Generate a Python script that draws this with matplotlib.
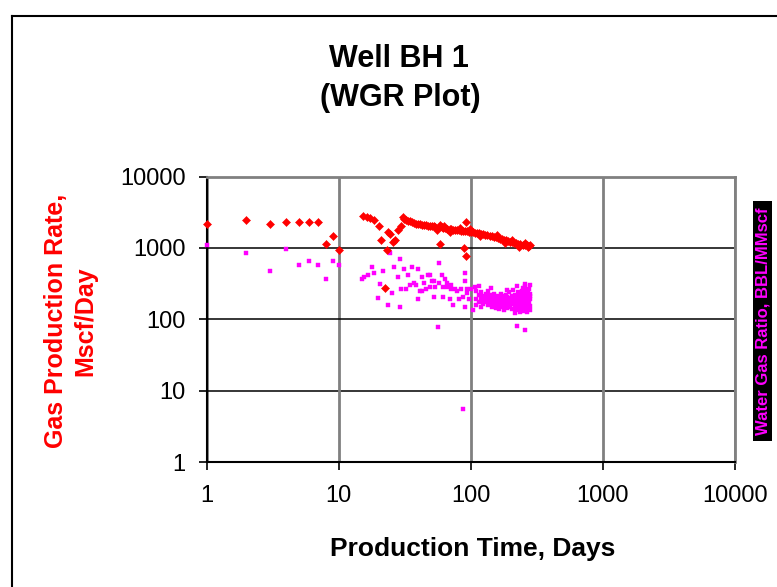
import matplotlib
matplotlib.use("Agg")
import matplotlib.pyplot as plt
from matplotlib.lines import Line2D
from matplotlib.patches import Rectangle
from matplotlib.ticker import FixedLocator, FixedFormatter, NullLocator

plt.rcParams['font.family'] = ['Liberation Sans', 'DejaVu Sans']

# ---- data -------------------------------------------------------------
tick_values = [1, 10, 100, 1000, 10000]
tick_labels = ["1", "10", "100", "1000", "10000"]

# gas production rate, Mscf/Day  (day, rate)
gas_early = [(1, 2170), (2, 2440), (3, 2170), (4, 2290), (5, 2290), (6, 2290),
             (7, 2290), (8, 1140), (9, 1470), (10, 940)]
gas_restart = [(15.4, 2840), (16.3, 2720), (17.3, 2600), (18.4, 2440), (20.1, 2010),
               (20.9, 1290), (22.4, 274), (23.1, 930), (23.8, 1650), (24.6, 1550),
               (25.6, 1200), (26.6, 1300), (28.2, 1800), (29.4, 2050)]
gas_decline = [(30.5, 2700), (31.5, 2520), (32.1, 2490), (33.3, 2400), (34.4, 2360),
               (35.7, 2290), (37.0, 2240), (38.3, 2190), (39.6, 2170), (41.0, 2140),
               (42.5, 2120), (44.0, 2100), (45.5, 2070), (47.1, 2050), (48.8, 2050),
               (50.5, 2030), (52.3, 2005), (54.1, 1985), (56.0, 1760), (58.3, 2120),
               (60.1, 1940), (62.2, 1905), (63.0, 2000), (64.4, 1905), (66.7, 1870),
               (69.1, 1850), (69.5, 1690), (71.5, 1820), (74.0, 1800), (76.7, 1800),
               (79.4, 1790), (82.2, 1770), (83.0, 1880), (85.1, 1745), (88.1, 1730),
               (91.2, 1706), (94.5, 1706), (97.8, 1690), (98.0, 1830), (101, 1674),
               (105, 1655), (108, 1640), (112, 1620), (116, 1600), (117, 1460),
               (120, 1570), (124, 1550), (129, 1535), (134, 1500), (139, 1470),
               (144, 1453), (149, 1440), (155, 1410), (157, 1520), (160, 1380),
               (166, 1350), (172, 1320), (179, 1306), (181, 1180), (185, 1275),
               (192, 1250), (199, 1225), (206, 1200), (207, 1306), (214, 1185),
               (222, 1160), (230, 1136), (231, 1040), (238, 1120), (247, 1110),
               (256, 1100), (258, 1180), (265, 1086), (271, 1040), (275, 1075),
               (279, 1100)]
gas_outliers = [(59, 1136), (92.9, 2285), (89.6, 998), (92.7, 762)]

# water gas ratio, BBL/MMscf  (day, ratio)
wgr_early = [(1, 1086), (2, 839), (3, 475), (4, 966), (5, 577), (6, 656),
             (7, 577), (8, 367), (9, 656), (10, 577)]
wgr_mid = [(15.0, 367), (15.6, 391), (16.6, 412), (17.8, 534), (18.4, 445),
           (19.8, 202), (20.5, 318), (21.8, 475), (23.5, 158), (24.5, 849),
           (25.2, 233), (26.1, 540), (28.0, 391), (29.0, 691), (29.0, 148),
           (29.8, 265), (31.0, 507), (32.1, 265), (33.3, 417), (34.4, 302),
           (35.7, 534), (37.0, 322), (38.3, 302), (39.6, 507), (39.6, 192),
           (41.0, 249), (42.5, 391), (42.5, 249), (44.0, 322), (45.5, 265),
           (47.1, 417), (48.8, 417), (48.8, 283), (50.5, 344), (52.3, 344),
           (52.3, 205), (54.1, 283), (56.1, 78), (58.0, 615), (58.0, 322),
           (60.1, 417), (62.2, 283), (62.2, 205), (64.4, 367), (66.7, 322),
           (66.7, 283), (69.1, 192), (71.5, 302), (71.5, 265), (74.0, 158),
           (76.7, 265), (79.4, 249), (82.2, 192), (85.1, 265), (88.1, 205),
           (88.1, 5.5), (91.2, 445), (91.2, 344), (91.2, 148), (94.5, 265),
           (94.5, 233), (97.8, 192), (101, 265), (105, 137), (108, 283)]
wgr_late = [(110, 250), (110, 190), (110, 160), (115, 220), (115, 175), (115, 290),
            (120, 200), (120, 240), (120, 150), (125, 185), (125, 215), (125, 165),
            (130, 230), (130, 175), (130, 200), (135, 160), (135, 205), (135, 250),
            (140, 190), (140, 170), (140, 220), (143, 278), (145, 210), (145, 150),
            (145, 185), (150, 180), (150, 225), (150, 160), (155, 200), (155, 170),
            (155, 145), (160, 215), (160, 185), (160, 160), (165, 170), (165, 200),
            (165, 140), (170, 190), (170, 155), (170, 230), (175, 210), (175, 170),
            (175, 150), (180, 180), (180, 200), (180, 135), (185, 160), (185, 220),
            (185, 190), (189, 262), (190, 175), (190, 145), (190, 205), (195, 200),
            (195, 160), (195, 240), (200, 185), (200, 150), (200, 170), (205, 210),
            (205, 140), (205, 180), (210, 195), (210, 165), (210, 262), (215, 175),
            (215, 150), (215, 220), (217, 121), (220, 200), (220, 135), (220, 185),
            (225, 160), (225, 296), (225, 215), (225, 140), (225, 82), (230, 190),
            (230, 175), (230, 240), (230, 150), (235, 210), (235, 145), (235, 180),
            (235, 125), (240, 165), (240, 230), (240, 195), (240, 155), (245, 185),
            (245, 250), (245, 140), (245, 215), (250, 175), (250, 205), (250, 130),
            (250, 160), (250, 275), (255, 195), (255, 150), (255, 225), (255, 170),
            (259, 313), (259, 72), (260, 240), (260, 165), (260, 140), (260, 205),
            (260, 290), (265, 180), (265, 215), (265, 150), (265, 125), (265, 255),
            (270, 200), (270, 160), (270, 235), (270, 140), (270, 185), (275, 170),
            (275, 220), (275, 145), (275, 265), (275, 195), (280, 190), (280, 155),
            (280, 230), (280, 135), (280, 210), (280, 300)]

gas = gas_early + gas_restart + gas_decline + gas_outliers
wgr = wgr_early + wgr_mid + wgr_late
gas_days = [d for d, _ in gas]
gas_rate = [v for _, v in gas]
wgr_days = [d for d, _ in wgr]
wgr_ratio = [v for _, v in wgr]

# ---- figure -----------------------------------------------------------
W, H = 777, 587
fig = plt.figure(figsize=(W / 100, H / 100), dpi=100)


def fx(px):
    return px / W


def fy(py):
    return 1 - py / H


# outer chart frame (runs off the right and bottom edges)
fig.add_artist(Line2D([fx(11.5), fx(11.5)], [fy(16), 0], color='black', lw=1.5))
fig.add_artist(Line2D([fx(11.5), 1], [fy(16), fy(16)], color='black', lw=1.5))

ax = fig.add_axes([fx(206.7), fy(462.3), fx(734.7) - fx(206.7), fy(176.5) - fy(462.3)])
ax.set_xscale('log')
ax.set_yscale('log')
ax.set_xlim(1, 10000)
ax.set_ylim(1, 10000)

ax.set_axisbelow(True)
for v in tick_values:
    ax.axhline(v, color='black', lw=1.1, zorder=0.5)
    ax.axvline(v, color='#808080', lw=2.0, zorder=0.5)

for side in ('top', 'right'):
    ax.spines[side].set_color('#808080')
    ax.spines[side].set_linewidth(2.0)
for side in ('left', 'bottom'):
    ax.spines[side].set_color('black')
    ax.spines[side].set_linewidth(1.5)

for axis in (ax.xaxis, ax.yaxis):
    axis.set_major_locator(FixedLocator(tick_values))
    axis.set_major_formatter(FixedFormatter(tick_labels))
    axis.set_minor_locator(NullLocator())
ax.tick_params(axis='both', which='major', direction='out', length=6,
               width=1.2, color='black', labelsize=17, labelcolor='black')
ax.tick_params(axis='y', pad=9)
ax.tick_params(axis='x', pad=10)

ax.plot(wgr_days, wgr_ratio, linestyle='none', marker='s', ms=3.4,
        color='#FF00FF', mec='#FF00FF', mew=0.3, zorder=3, clip_on=False)
ax.plot(gas_days, gas_rate, linestyle='none', marker='D', ms=4.0,
        color='#FF0000', mec='#FF0000', mew=0.4, zorder=4, clip_on=False)

# titles and axis labels
fig.text(fx(399), fy(67), "Well BH 1", ha='center', va='baseline',
         fontsize=22, fontweight='bold')
fig.text(fx(400), fy(106), "(WGR Plot)", ha='center', va='baseline',
         fontsize=22, fontweight='bold')
fig.text(fx(473), fy(556), "Production Time, Days", ha='center', va='baseline',
         fontsize=19, fontweight='bold')
fig.text(fx(71), fy(321), "Gas Production Rate,\nMscf/Day", ha='center',
         va='center', rotation=90, multialignment='center', linespacing=1.3,
         fontsize=18, fontweight='bold', color='#FF0000')

# secondary axis title on a black strip
fig.add_artist(Rectangle((fx(753), fy(441)), fx(19), fy(201) - fy(441),
                         facecolor='black', edgecolor='none'))
fig.text(fx(762.5), fy(321), "Water Gas Ratio, BBL/MMscf", ha='center',
         va='center', rotation=90, fontsize=12, fontweight='bold',
         color='#FF00FF')

fig.savefig("out.png", dpi=100)
